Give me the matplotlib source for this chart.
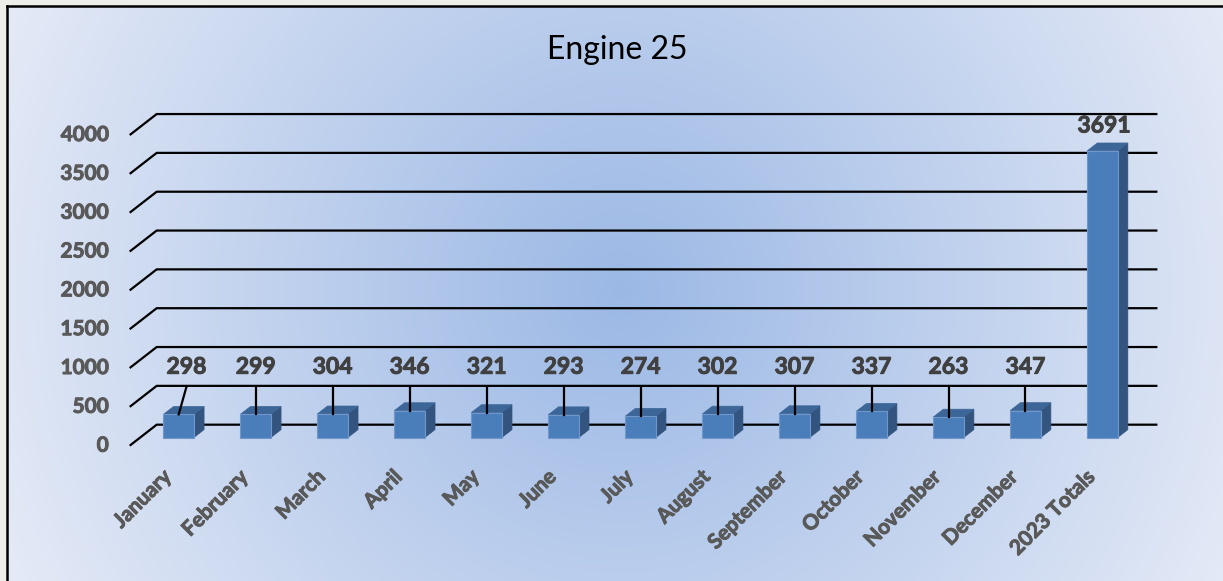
import numpy as np
import matplotlib.pyplot as plt
import matplotlib.patheffects as pe
from matplotlib.patches import Polygon, Rectangle
from matplotlib.lines import Line2D

plt.rcParams['font.family'] = ['Lato', 'DejaVu Sans']

# data
months = ['January', 'February', 'March', 'April', 'May', 'June', 'July',
          'August', 'September', 'October', 'November', 'December']
counts = [298, 299, 304, 346, 321, 293, 274, 302, 307, 337, 263, 347]
total_name = '2023 Totals'
total = 3691
y_ticks = [0, 500, 1000, 1500, 2000, 2500, 3000, 3500, 4000]
title = 'Engine 25'

categories = months + [total_name]
values = counts + [total]

# layout (pixels of the 1223x581 canvas)
W, H = 1223, 581
X0, PX_CAT = 178.7, 76.98      # centre of first bar, px per category
Y0, PX_VAL = 437.5, 0.07766    # base of bars, px per unit
DX, DY = 27 / PX_CAT, 21 / PX_VAL   # full depth of the 3d box in data units
BAR_W = 30.5 / PX_CAT
D_FRONT = -0.39   # front plane (axis) relative to bar faces
D_BACK = 0.61     # back wall
D_BAR = 0.375     # bar depth


def heavy(color):
    # thicken the strokes a little, the original font is a heavy bold
    return [pe.withStroke(linewidth=0.7, foreground=color)]


fig = plt.figure(figsize=(W / 100, H / 100), dpi=100)
fig.patch.set_facecolor('#EDEDEA')
fig.patch.set_linewidth(0)

# radial gradient background
bg = fig.add_axes([8 / W, 0, 1 - 8 / W, 1 - 7 / H])
yy, xx = np.mgrid[7:H, 8:W]
t = np.clip(np.hypot(xx - 620, yy - 290) / 660, 0, 1)[..., None]
c0 = np.array([0x9B, 0xB8, 0xE5]) / 255
c1 = np.array([0xE3, 0xE9, 0xF6]) / 255
bg.imshow(c0 + (c1 - c0) * t, aspect='auto', interpolation='bilinear')
bg.set_axis_off()
fig.add_artist(Line2D([7 / W, 7 / W], [0, 1 - 6 / H], color='black', lw=1.8,
                      transform=fig.transFigure))
fig.add_artist(Line2D([7 / W, 1], [1 - 6 / H, 1 - 6 / H], color='black', lw=1.8,
                      transform=fig.transFigure))

ax = fig.add_axes([0, 0, 1, 1])
ax.patch.set_alpha(0)
ax.set_xlim(-X0 / PX_CAT, (W - X0) / PX_CAT)
ax.set_ylim((Y0 - H) / PX_VAL, Y0 / PX_VAL)
ax.set_axis_off()

n = len(categories)
left, right = -0.5, n - 0.5

# back wall gridlines with perspective stub on the left
for v in y_ticks:
    ax.plot([left + D_FRONT * DX, left + D_BACK * DX, right + D_BACK * DX],
            [v + D_FRONT * DY, v + D_BACK * DY, v + D_BACK * DY],
            color='black', lw=1.6, zorder=1, solid_capstyle='butt')
    ax.text(left + D_FRONT * DX - 21 / PX_CAT, v + D_FRONT * DY, str(v),
            ha='right', va='center', fontsize=15, fontweight='bold',
            color='#595959', path_effects=heavy('#595959'))

# 3d bars
front_c, side_c, top_c = '#4A7EBB', '#32547F', '#3C6698'
for i, v in enumerate(values):
    x1, x2 = i - BAR_W / 2, i + BAR_W / 2
    ox, oy = D_BAR * DX, D_BAR * DY
    ax.add_patch(Polygon([(x2, 0), (x2 + ox, oy), (x2 + ox, v + oy), (x2, v)],
                         closed=True, facecolor=side_c, edgecolor=side_c,
                         lw=0.5, zorder=2))
    ax.add_patch(Polygon([(x1, v), (x2, v), (x2 + ox, v + oy), (x1 + ox, v + oy)],
                         closed=True, facecolor=top_c, edgecolor=top_c,
                         lw=0.5, zorder=2))
    ax.add_patch(Rectangle((x1, 0), BAR_W, v, facecolor=front_c,
                           edgecolor='#7096CA', lw=0.8, zorder=2))

# value labels with leader lines for the monthly bars
label_y = 905
for i, v in enumerate(counts):
    lx = i + (0.1 if i == 0 else 0)
    ax.plot([i, lx], [v, label_y - 255], color='black', lw=1.6, zorder=3)
    ax.text(lx, label_y, str(v), ha='center', va='center', fontsize=16.5,
            fontweight='bold', color='#404040', zorder=4,
            path_effects=heavy('#404040'))
ax.text(n - 1 + 0.02, total + 320, str(total), ha='center', va='center',
        fontsize=16.5, fontweight='bold', color='#404040', zorder=4,
        path_effects=heavy('#404040'))

# category labels
for i, name in enumerate(categories):
    ax.text(i + D_FRONT * DX, D_FRONT * DY - 28 / PX_VAL, name, rotation=45,
            rotation_mode='anchor', ha='right', va='center', fontsize=15,
            fontweight='bold', color='#595959', path_effects=heavy('#595959'))

fig.text(617.5 / W, 1 - 50 / H, title, ha='center', va='center',
         fontsize=23, color='black')

fig.savefig('out.png', dpi=100, facecolor=fig.get_facecolor())
